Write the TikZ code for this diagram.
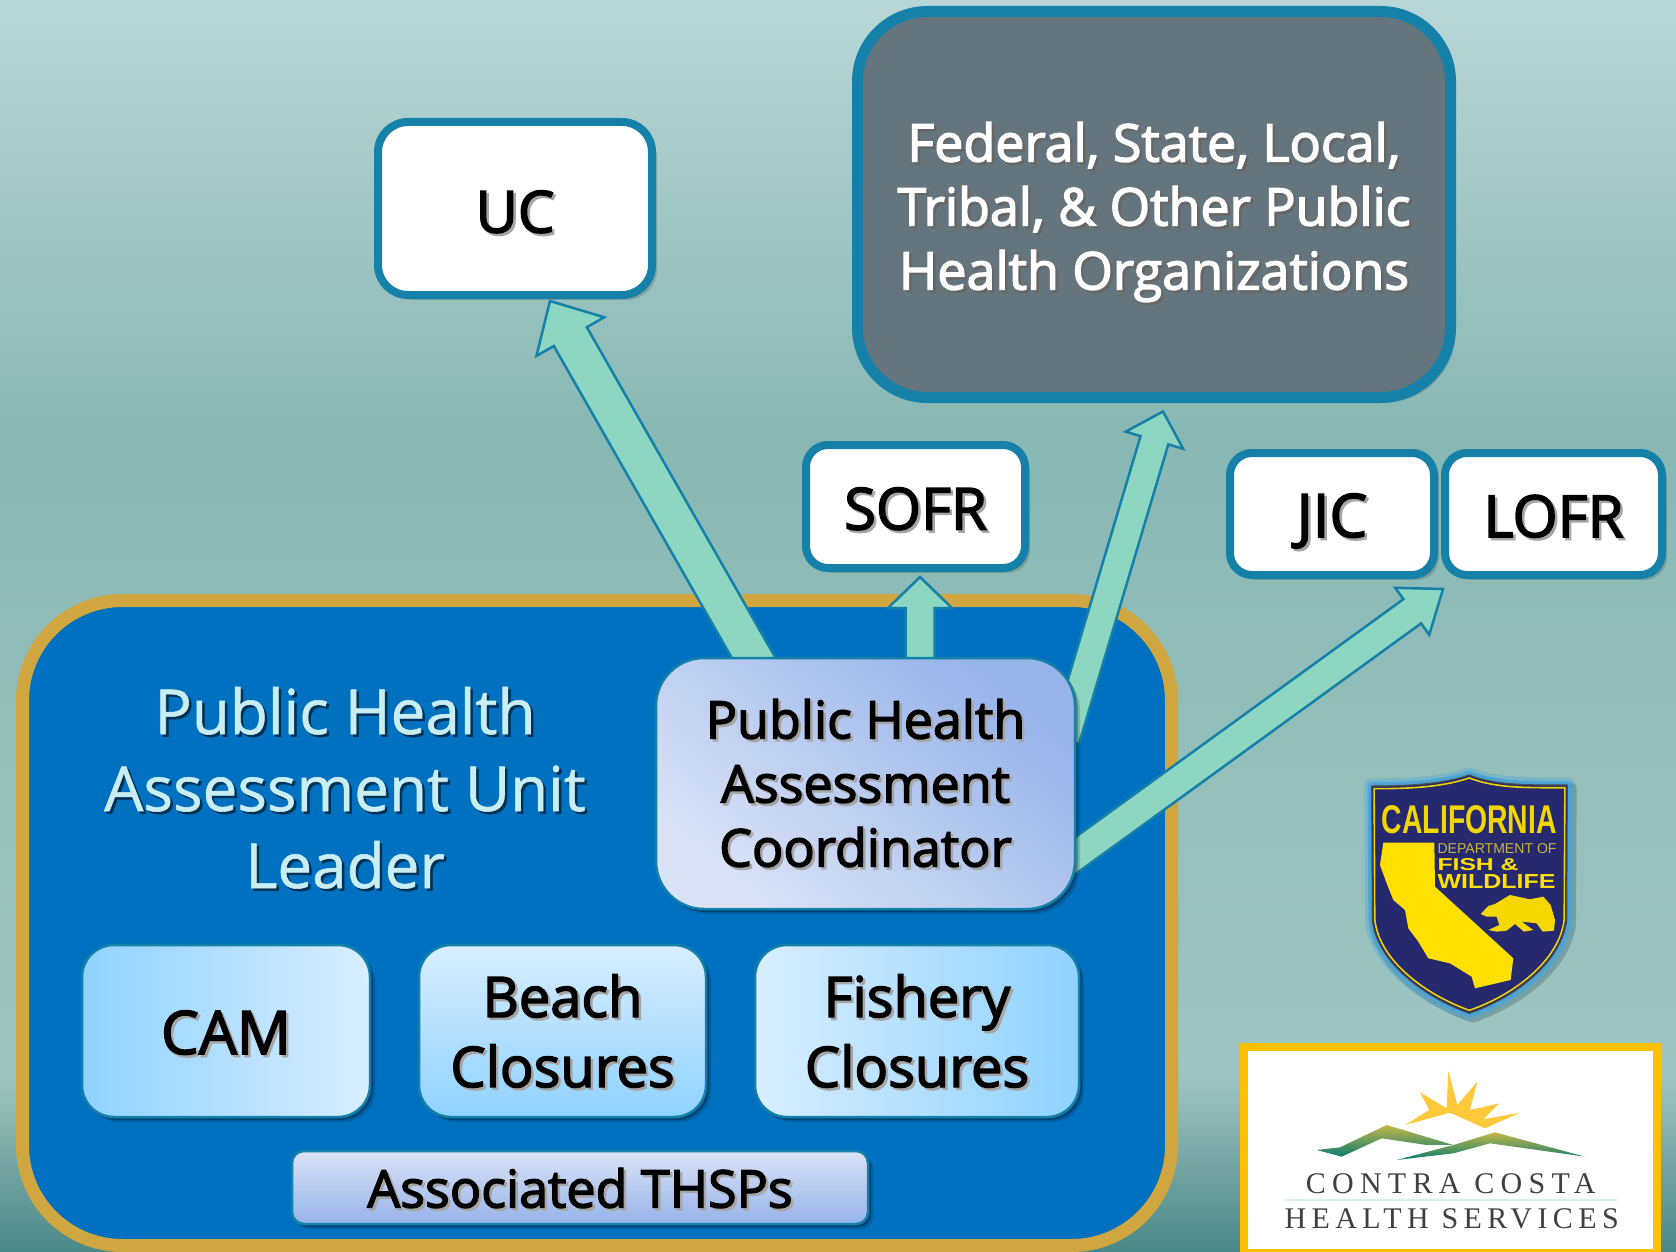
\documentclass[tikz,border=0pt]{standalone}
\usepackage{fontspec}
\usepackage{graphicx}
\setmainfont{Open Sans}
\newfontfamily\semi[FakeBold=2.6]{Open Sans}
\newfontfamily\plainf[FakeBold=0.9]{Open Sans}
\newfontfamily\arial{Liberation Sans}
\newfontfamily\logofont[LetterSpace=21]{Liberation Serif}
\newfontfamily\logofontb[LetterSpace=18]{Liberation Serif}
\usetikzlibrary{shadows,calc}
\definecolor{edgeblue}{HTML}{1580A8}
\definecolor{mint}{HTML}{8DD6C1}
\definecolor{gold}{HTML}{D0A640}
\definecolor{unitblue}{HTML}{0070C0}
\definecolor{slate}{HTML}{64757E}
\definecolor{navy}{HTML}{27296E}
\definecolor{shieldy}{HTML}{FFE000}
\definecolor{shieldglow}{HTML}{45A5DE}
\definecolor{lightlabel}{HTML}{C8EEF4}
\definecolor{periA}{HTML}{96B3EA}
\definecolor{periB}{HTML}{DAE3F6}
\definecolor{skyA}{HTML}{8FD2FF}
\definecolor{skyB}{HTML}{D8EEFF}
\definecolor{bgA}{HTML}{4A8886}
\definecolor{bgB}{HTML}{74A5A3}
\definecolor{bgC}{HTML}{9EC5C1}
\definecolor{bgE}{HTML}{88B8B4}
\definecolor{bgG}{HTML}{B9D6D6}
\definecolor{logogold}{HTML}{FFC000}
\definecolor{sun}{HTML}{FFC93C}
\definecolor{hillA}{HTML}{0B7D70}
\definecolor{hillB}{HTML}{C4B848}
\pgfdeclareverticalshading{bgshade}{100bp}{
  color(0bp)=(bgA);
  color(25bp)=(bgA);
  color(28.5bp)=(bgB);
  color(32bp)=(bgC);
  color(57.8bp)=(bgE);
  color(75bp)=(bgG);
  color(100bp)=(bgG)}
% one line of text, lowered by #2, with its shadow (colour #1)
\newcommand{\shd}[3][black!35]{\raisebox{-#2}[0pt][0pt]{\makebox[0pt][l]{\raisebox{-2.5pt}{\hspace{2.5pt}\textcolor{#1}{#3}}}#3}}
% block arrow from named base #1 to named tip #2: shaft half width #3, head half width #4, head length #5
\newcommand{\blockarrow}[5]{%
  \draw[arrowbody]
    ($(#1)!#3pt!-90:(#2)$) --
    ($($(#2)!#5pt!(#1)$)!#3pt!-90:(#2)$) --
    ($($(#2)!#5pt!(#1)$)!#4pt!-90:(#2)$) --
    (#2) --
    ($($(#2)!#5pt!(#1)$)!#4pt!90:(#2)$) --
    ($($(#2)!#5pt!(#1)$)!#3pt!90:(#2)$) --
    ($(#1)!#3pt!90:(#2)$) -- cycle;}
\tikzset{
  softshadow/.style={drop shadow={shadow xshift=5pt,shadow yshift=-5pt,fill=black,opacity=.14},
                     drop shadow={shadow xshift=3pt,shadow yshift=-3pt,fill=black,opacity=.28}},
  whitebox/.style={draw=edgeblue,line width=8pt,fill=white,rounded corners=22pt,inner sep=0pt,
     align=center,softshadow,font=\semi\fontsize{58}{66}\selectfont,text=black},
  gradbox/.style={draw=edgeblue,line width=2.5pt,rounded corners=32pt,inner sep=0pt,align=center,
     softshadow,font=\semi\fontsize{56}{70}\selectfont,text=black},
  arrowbody/.style={draw=edgeblue,line width=2.5pt,fill=mint,line join=miter},
}
\begin{document}
\begin{tikzpicture}[x=1pt,y=-1pt]
\useasboundingbox (0,0) rectangle (1676,1252);
\shade[shading=bgshade] (0,0) rectangle (1676,1252);
% unit box
\node[draw=gold,line width=13pt,fill=unitblue,rounded corners=100pt,inner sep=0pt,
      minimum width=1149pt,minimum height=645pt,drop shadow={shadow xshift=3pt,shadow yshift=-3pt,fill=black,opacity=.25}] (unit) at (597,923) {};
\node[align=center,text=lightlabel,font=\plainf\fontsize{62}{77}\selectfont] (unitlabel) at (345,789)
   {\shd[black!55!unitblue]{22pt}{Public Health}\\\shd[black!55!unitblue]{22pt}{Assessment Unit}\\\shd[black!55!unitblue]{22pt}{Leader}};
% top boxes
\node[whitebox,minimum width=274pt,minimum height=173pt,rounded corners=30pt] (uc) at (515,208.5) {\shd{24pt}{UC}};
\node[draw=edgeblue,line width=11pt,fill=slate,rounded corners=70pt,inner sep=0pt,align=center,
      minimum width=593pt,minimum height=386pt,softshadow,text=white,
      font=\semi\fontsize{52}{64}\selectfont] (fed) at (1154,204.5)
   {\shd[black!60]{21pt}{Federal, State, Local,}\\\shd[black!60]{21pt}{Tribal, \& Other Public}\\\shd[black!60]{21pt}{Health Organizations}};
\node[whitebox,minimum width=219pt,minimum height=123pt] (sofr) at (915.5,506.5) {\shd{23pt}{SOFR}};
\node[whitebox,minimum width=204pt,minimum height=122pt,font=\semi\fontsize{60}{66}\selectfont] (jic) at (1332,514) {\shd{23pt}{JIC}};
\node[whitebox,minimum width=217pt,minimum height=122pt] (lofr) at (1553.5,514) {\shd{23pt}{LOFR}};
% connectors
\coordinate (a1b) at (772,690);
\coordinate (a1t) at ($(uc.south)+(35,2)$);
\coordinate (a2b) at (920,690);
\coordinate (a2t) at ($(sofr.south)+(4.5,5)$);
\coordinate (a3b) at (1065,740);
\coordinate (a3t) at ($(fed.south)+(9,8.5)$);
\coordinate (a4b) at (1050,874);
\coordinate (a4t) at ($(lofr.south west)+(2,10)$);
\blockarrow{a1b}{a1t}{19}{39}{41}
\blockarrow{a2b}{a2t}{14.5}{32}{31}
\blockarrow{a3b}{a3t}{14.5}{30}{30}
\blockarrow{a4b}{a4t}{15}{29}{38}
% coordinator and teams
\node[gradbox,minimum width=419pt,minimum height=251pt,rounded corners=48pt,
      top color=periA,bottom color=periB,shading angle=-40,
      font=\semi\fontsize{52}{64}\selectfont] (coord) at (865.5,783.5)
   {\shd{19pt}{Public Health}\\\shd{19pt}{Assessment}\\\shd{19pt}{Coordinator}};
\node[gradbox,minimum width=288pt,minimum height=172pt,left color=skyA,right color=skyB,font=\semi\fontsize{60}{70}\selectfont] (cam) at (226,1031) {\shd{23pt}{CAM}};
\node[gradbox,minimum width=287pt,minimum height=172pt,top color=skyB,bottom color=skyA] (beach) at (562.5,1031) {\shd{21pt}{Beach}\\\shd{21pt}{Closures}};
\node[gradbox,minimum width=324pt,minimum height=172pt,left color=skyB,right color=skyA] (fishery) at (917,1031) {\shd{21pt}{Fishery}\\\shd{21pt}{Closures}};
\node[gradbox,minimum width=576pt,minimum height=73pt,rounded corners=12pt,top color=periB,bottom color=periA,
      font=\semi\fontsize{52}{58}\selectfont] (thsps) at (580,1187.5) {\shd{20pt}{Associated THSPs}};
% California Department of Fish and Wildlife badge
\begin{scope}[shift={(1340,750)},x=0.3333pt,y=-0.3333pt]
  \def\shieldpath{(388,75) .. controls (300,105) and (190,108) .. (95,108) -- (97,510)
     .. controls (110,640) and (260,745) .. (388,790) .. controls (520,745) and (665,640) .. (680,510)
     -- (682,105) .. controls (580,105) and (470,108) .. (388,75) -- cycle}
  \draw[line width=12pt,draw=black,opacity=.18,line join=round,shift={(10,10)}] \shieldpath;
  \draw[line width=15pt,draw=shieldglow,opacity=.35,line join=round] \shieldpath;
  \draw[line width=8pt,draw=shieldglow,opacity=.8,line join=round] \shieldpath;
  \fill[navy] \shieldpath;
  \draw[line width=1.2pt,black!70] \shieldpath;
  \begin{scope}[shift={(388,430)},scale=.975,shift={(-388,-430)}]
    \draw[line width=1.6pt,shieldy!85!olive] \shieldpath;
  \end{scope}
  \fill[shieldy] (130,278) -- (283,278) -- (285,410) -- (520,625) -- (512,690) -- (405,715) -- (395,680)
     -- (330,640) -- (265,625) -- (235,575) -- (205,535) -- (195,480) -- (160,450) -- (140,400) -- (120,345) -- cycle;
  \fill[shieldy!92!olive] (422,492) -- (445,468) -- (465,462) -- (510,435) -- (570,448) -- (610,440) -- (632,465)
     -- (645,510) -- (642,542) -- (608,545) -- (590,520) -- (545,515) -- (580,540) -- (552,545) -- (525,522)
     -- (500,542) -- (470,545) -- (445,540) -- (478,525) -- (470,500) -- (440,500) -- cycle;
  \node[inner sep=0pt,text=shieldy!90!olive,font=\arial\bfseries] (cdfwname) at (388,208) {\resizebox{175pt}{28pt}{CALIFORNIA}};
  \node[inner sep=0pt,anchor=west,text=shieldy!55!gray,font=\arial] (cdfwdept) at (292,295) {\resizebox{119pt}{10pt}{DEPARTMENT OF}};
  \node[inner sep=0pt,anchor=west,text=shieldy,font=\arial\bfseries] (cdfwfish) at (292,343) {\resizebox{81pt}{12pt}{FISH \&}};
  \node[inner sep=0pt,anchor=west,text=shieldy,font=\arial\bfseries] (cdfwwild) at (292,394) {\resizebox{118pt}{14pt}{WILDLIFE}};
\end{scope}
% Contra Costa Health Services logo
\node[draw=logogold,line width=8pt,fill=white,minimum width=413pt,minimum height=206pt,inner sep=0pt,
      drop shadow={shadow xshift=3pt,shadow yshift=-3pt,fill=black,opacity=.3}] (logo) at (1450.5,1150) {};
\begin{scope}[shift={(1220,1030)},x=0.3333pt,y=-0.3333pt]
  \fill[sun] (555,285) -- (628,240) -- (600,187) -- (680,235) -- (685,122) -- (712,225) -- (772,155) -- (750,240)
     -- (838,220) -- (790,268) -- (900,248) -- (795,295) -- (690,248) -- cycle;
  \shade[top color=hillB,bottom color=hillA] (290,360) -- (360,352) -- (500,285) -- (700,345) -- (620,345) -- (485,325) -- (365,380) -- cycle;
  \shade[top color=hillB,bottom color=hillA] (530,390) -- (700,345) -- (825,307) -- (1095,380) -- (810,340) -- (700,370) -- cycle;
  \draw[line width=1.2pt,color=black!15!cyan!15!white] (195,510) -- (1190,510);
  \node[inner sep=0pt,text=black!75,font=\logofont\fontsize{30}{30}\selectfont] (ccname) at (692,460) {CONTRA COSTA};
  \node[inner sep=0pt,text=black!75,font=\logofontb\fontsize{30}{30}\selectfont] (hsname) at (695,565) {HEALTH SERVICES};
\end{scope}
\end{tikzpicture}
\end{document}
